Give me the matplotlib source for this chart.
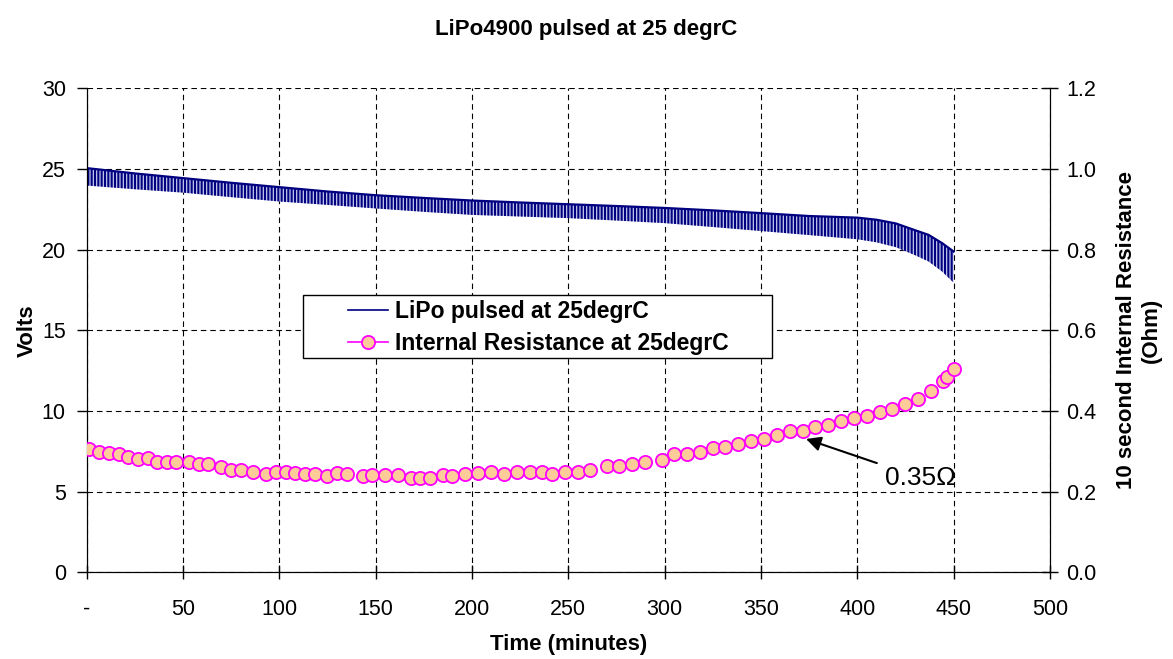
import matplotlib
matplotlib.use('Agg')
import matplotlib.pyplot as plt
from matplotlib.lines import Line2D
from matplotlib.patches import Rectangle
from matplotlib.ticker import FuncFormatter

# =============================================================================
# Data
# =============================================================================
# pulsed pack voltage: envelope of the pulses (rest top / loaded bottom)
volt_t = [0, 25, 50, 75, 100, 125, 150, 175, 200, 225, 250, 275, 300,
          325, 350, 375, 400, 410, 420, 430, 437, 444, 450]
volt_top = [25.05, 24.72, 24.43, 24.14, 23.87, 23.60, 23.37, 23.20, 23.04,
            22.92, 22.81, 22.70, 22.58, 22.43, 22.26, 22.08, 21.98, 21.85,
            21.62, 21.20, 20.91, 20.40, 19.88]
volt_bottom = [23.97, 23.74, 23.53, 23.25, 22.98, 22.77, 22.55, 22.34, 22.15,
               22.05, 21.95, 21.80, 21.64, 21.40, 21.15, 20.90, 20.64, 20.45,
               20.15, 19.65, 19.26, 18.64, 17.95]

# 10 second internal resistance (Ohm)
res_t = [1.3, 6.5, 11.7, 16.6, 21.6, 26.6, 31.7, 36.6, 41.5, 46.4, 52.9,
         58.1, 63.1, 69.9, 75.1, 80.1, 86.5, 93.1, 98.3, 103.3, 108.3, 113.3,
         118.4, 124.7, 129.9, 135.0, 143.3, 148.1, 154.8, 161.4, 168.2,
         173.2, 178.2, 184.8, 189.6, 196.5, 203.1, 209.8, 216.4, 223.2,
         229.9, 236.5, 241.7, 248.3, 254.9, 261.4, 269.9, 276.4, 283.0,
         289.8, 298.5, 304.9, 311.6, 318.3, 324.9, 331.5, 338.2, 344.8,
         351.6, 358.2, 364.9, 371.7, 378.2, 384.8, 391.6, 398.3, 404.9,
         411.7, 418.2, 424.9, 431.7, 438.3, 444.6, 446.4, 450.1]
res_ohm = [0.306, 0.299, 0.296, 0.292, 0.287, 0.282, 0.283, 0.273, 0.273,
           0.274, 0.273, 0.268, 0.269, 0.262, 0.254, 0.254, 0.249, 0.244,
           0.249, 0.249, 0.245, 0.244, 0.244, 0.239, 0.245, 0.244, 0.239,
           0.240, 0.240, 0.240, 0.234, 0.234, 0.234, 0.240, 0.239, 0.244,
           0.246, 0.248, 0.244, 0.249, 0.249, 0.249, 0.244, 0.249, 0.249,
           0.254, 0.264, 0.264, 0.269, 0.273, 0.278, 0.293, 0.293, 0.297,
           0.307, 0.311, 0.317, 0.326, 0.331, 0.341, 0.350, 0.351, 0.359,
           0.365, 0.374, 0.382, 0.387, 0.397, 0.406, 0.416, 0.430, 0.450,
           0.473, 0.484, 0.503]

x_ticks = [0, 50, 100, 150, 200, 250, 300, 350, 400, 450, 500]
volt_ticks = [0, 5, 10, 15, 20, 25, 30]
res_ticks = [0.0, 0.2, 0.4, 0.6, 0.8, 1.0, 1.2]

title = 'LiPo4900 pulsed at 25 degrC'
label_volt = 'LiPo pulsed at 25degrC'
label_res = 'Internal Resistance at 25degrC'

# =============================================================================
# Style
# =============================================================================
plt.rcParams['font.family'] = ['Liberation Sans', 'DejaVu Sans']
plt.rcParams['hatch.linewidth'] = 1.5

NAVY = '#000080'
BAND = '#c4c7ea'
MK_FACE = '#ffcc99'
MK_EDGE = '#ff00ff'
GRID_LS = (0, (5, 3.5))
FS = 16

fig = plt.figure(figsize=(11.73, 6.59), dpi=100)
ax = fig.add_axes([0.0739, 0.1316, 0.8212, 0.7345])
ax2 = ax.twinx()

# voltage pulses: striped band between the envelopes
ax.fill_between(volt_t, volt_bottom, volt_top, facecolor=BAND,
                edgecolor=NAVY, hatch='|||||', linewidth=0, zorder=2)
ax.plot(volt_t, volt_top, color=NAVY, lw=1.6, zorder=3)

ax.set_xlim(0, 500)
ax.set_ylim(0, 30)
ax.set_xticks(x_ticks)
ax.set_yticks(volt_ticks)
ax.xaxis.set_major_formatter(
    FuncFormatter(lambda v, p: '-' if v == 0 else f'{v:.0f}'))
ax.grid(True, color='black', lw=0.8, ls=GRID_LS)
ax.set_axisbelow(True)
ax.spines['top'].set_visible(False)
ax2.spines['top'].set_visible(False)

ax.tick_params(axis='x', direction='inout', length=10, width=1,
               labelsize=FS - 0.5, pad=14)
ax.tick_params(axis='y', direction='out', length=7, width=1,
               labelsize=FS - 0.5, pad=8)
ax.set_xlabel('Time (minutes)', fontsize=FS, fontweight='bold', labelpad=10)
ax.set_ylabel('Volts', fontsize=FS, fontweight='bold', labelpad=3)

# internal resistance on the right axis
ax2.plot(res_t, res_ohm, ls='none', marker='o', ms=9.5, mfc=MK_FACE,
         mec=MK_EDGE, mew=1.3, zorder=4)
ax2.set_ylim(0, 1.2)
ax2.set_yticks(res_ticks)
ax2.yaxis.set_major_formatter(FuncFormatter(lambda v, p: f'{v:.1f}'))
ax2.tick_params(axis='y', direction='inout', length=12, width=1,
                labelsize=FS - 0.5, pad=6)
ax2.set_ylabel('10 second Internal Resistance\n(Ohm)', fontsize=FS,
               fontweight='bold', labelpad=14)

ax2.annotate('0.35\u03a9', xy=(373.4, 0.3305), xytext=(414.3, 0.234),
             fontsize=19, va='center', ha='left',
             arrowprops=dict(arrowstyle='-|>', color='black', lw=1.5,
                             mutation_scale=22, shrinkA=4, shrinkB=0))

# legend: Excel-style box with wide padding, drawn as its own rectangle
ax2.add_patch(Rectangle((0.2245, 0.4428), 0.4869, 0.1302,
                        transform=ax2.transAxes, facecolor='white',
                        edgecolor='black', lw=1.0, zorder=6))
handles = [Line2D([], [], color=NAVY, lw=1.2),
           Line2D([], [], color=MK_EDGE, lw=1.2, marker='o', ms=9.5,
                  mfc=MK_FACE, mec=MK_EDGE, mew=1.3)]
leg = ax2.legend(handles, [label_volt, label_res], loc='center left',
                 bbox_to_anchor=(0.2713, 0.5058), borderaxespad=0,
                 borderpad=0, frameon=False,
                 prop=dict(weight='bold', size=16.5),
                 handlelength=1.75, labelspacing=0.38, handletextpad=0.3)
leg.set_zorder(7)

fig.text(0.5, 1 - 30 / 659, title, ha='center', va='center',
         fontsize=FS, fontweight='bold')

fig.savefig('out.png', dpi=100)
